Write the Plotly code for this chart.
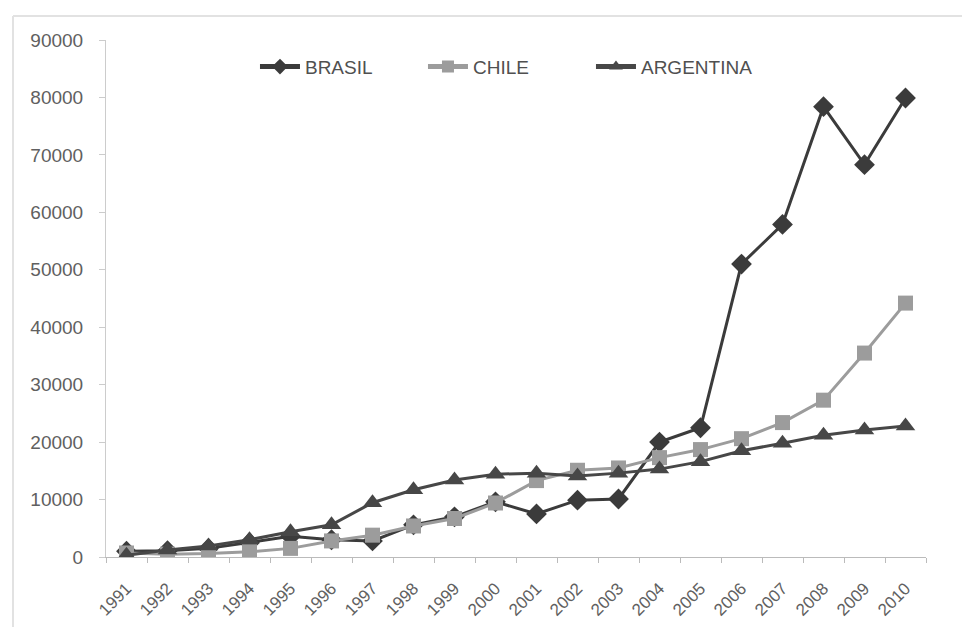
import plotly.graph_objects as go

years = [str(y) for y in range(1991, 2011)]

brasil = [1000, 1100, 1500, 2500, 3600, 3000, 2800, 5600, 7000, 9600,
          7500, 9900, 10100, 20000, 22500, 51000, 57900, 78400, 68300, 79900]
chile = [700, 500, 600, 900, 1500, 2800, 3800, 5400, 6700, 9400,
         13300, 15100, 15500, 17300, 18700, 20600, 23400, 27300, 35500, 44200]
argentina = [300, 1200, 1900, 3000, 4400, 5600, 9450, 11700, 13400, 14400,
             14600, 14100, 14600, 15300, 16600, 18500, 19800, 21200, 22100, 22800]

y_ticks = list(range(0, 90001, 10000))

W, H = 962, 627
ML, MR, MT, MB = 106, 36, 40, 70

fig = go.Figure()
series = [
    ("BRASIL", brasil, "#3b3b3b", "diamond", 16),
    ("CHILE", chile, "#9c9c9c", "square", 15),
    ("ARGENTINA", argentina, "#474747", "triangle-up", 17),
]
for name, vals, color, symbol, size in series:
    fig.add_trace(go.Scatter(
        x=years, y=vals, name=name, mode="lines+markers",
        line=dict(color=color, width=3),
        marker=dict(symbol=symbol, size=size, color=color),
    ))

# thin frame along the top and left of the chart area
px = lambda v: (v - ML) / (W - ML - MR)
py = lambda v: (H - MB - v) / (H - MT - MB)
fig.add_shape(type="line", xref="paper", yref="paper",
              x0=px(13), x1=px(W), y0=py(16), y1=py(16),
              line=dict(color="#e2e2e2", width=2))
fig.add_shape(type="line", xref="paper", yref="paper",
              x0=px(13), x1=px(13), y0=py(16), y1=py(H),
              line=dict(color="#e2e2e2", width=2))

fig.update_layout(
    width=W, height=H,
    margin=dict(l=ML, r=MR, t=MT, b=MB, autoexpand=False),
    paper_bgcolor="white", plot_bgcolor="white",
    font=dict(family="Liberation Sans, Arial, sans-serif", color="#606060", size=13),
    showlegend=True,
    legend=dict(orientation="h", x=0.489, xanchor="center", y=0.985, yanchor="top",
                font=dict(size=19, color="#505050"), itemwidth=40,
                entrywidth=113, itemsizing="constant",
                bgcolor="rgba(0,0,0,0)"),
    xaxis=dict(
        type="category", tickson="boundaries", ticks="outside", ticklen=5,
        tickcolor="#bbbbbb", showline=True, linecolor="#bbbbbb", linewidth=1,
        showgrid=False, tickangle=-45, tickfont=dict(size=17, color="#606060"),
        ticklabelstandoff=14, range=[-0.5, 19.5], automargin=False,
    ),
    yaxis=dict(
        range=[0, 90000], tickvals=y_ticks, tickformat="d", ticks="outside", ticklen=6,
        tickcolor="#cccccc", showline=True, linecolor="#cccccc", linewidth=1,
        showgrid=False, zeroline=False, ticklabelstandoff=12,
        tickfont=dict(size=19, color="#606060"), automargin=False,
    ),
)

fig.write_html("out.html")
